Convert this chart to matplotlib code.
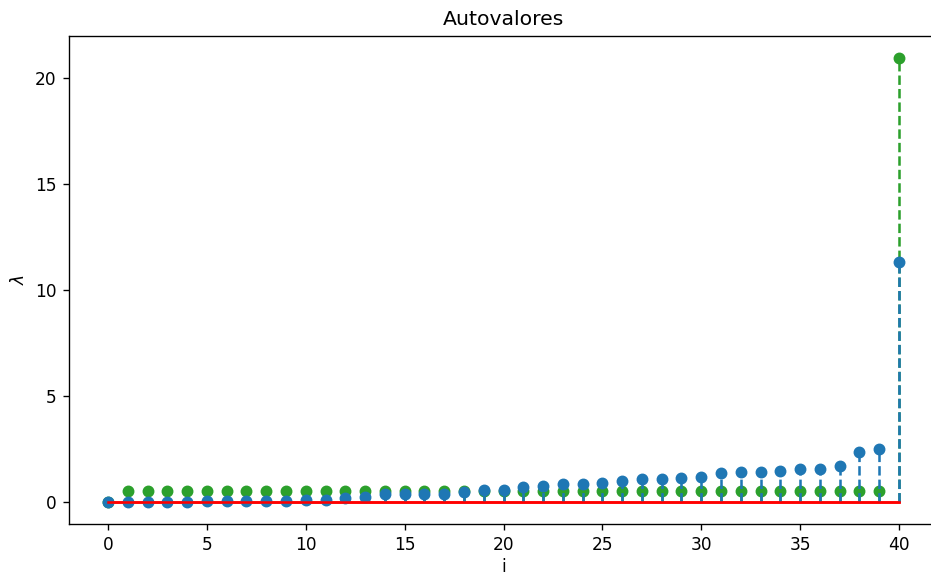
import matplotlib
matplotlib.use("Agg")
import matplotlib.pyplot as plt
import numpy as np

# Eigenvalue indices
indices = list(range(41))

# Eigenvalues of the first operator (blue)
eig_a = [0.0, 0.0, 0.0, 0.0, 0.0, 0.02, 0.02, 0.02, 0.02, 0.02,
         0.09, 0.09, 0.17, 0.25, 0.35, 0.35, 0.39, 0.39, 0.46, 0.55,
         0.55, 0.68, 0.73, 0.82, 0.82, 0.90, 0.96, 1.06, 1.06, 1.12,
         1.18, 1.34, 1.42, 1.42, 1.47, 1.53, 1.56, 1.67, 2.33, 2.47,
         11.33]

# Eigenvalues of the second operator (green)
eig_b = [0.0] + [0.5] * 39 + [20.95]

DPI = 122
W, H = 931, 574
fig = plt.figure(figsize=(W / DPI, H / DPI), dpi=DPI)
ax = fig.add_axes([68.5 / W, 50 / H, 870 / W, 488.4 / H])

ax.stem(indices, eig_b, linefmt="C2--", markerfmt="C2o", basefmt="r-")
ax.stem(indices, eig_a, linefmt="C0--", markerfmt="C0o", basefmt="r-")

ax.set_title("Autovalores")
ax.set_xlabel("i", labelpad=2.5)
ax.set_ylabel(r"$\lambda$")

fig.savefig("out.png", dpi=DPI)
